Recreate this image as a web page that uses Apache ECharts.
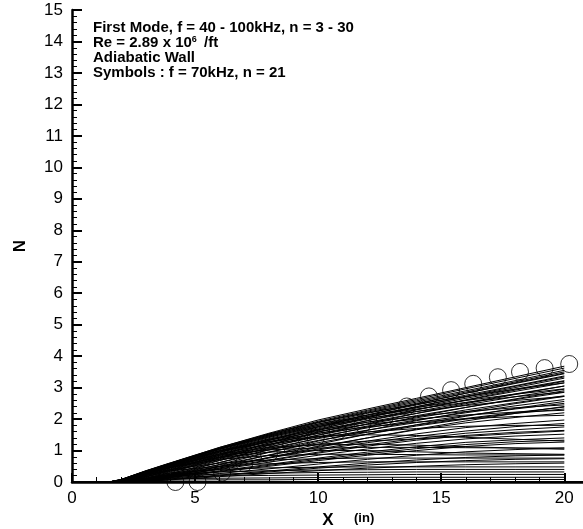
<!DOCTYPE html>
<html>
<head>
<meta charset="utf-8">
<script src="https://cdn.jsdelivr.net/npm/echarts@6/dist/echarts.min.js"></script>
<style>
  html, body { margin: 0; padding: 0; background: #fff; }
  #chart { width: 583px; height: 529px; }
</style>
</head>
<body>
<div id="chart"></div>
<script>
// stations along the body (in)
var xPts = [1.5, 2, 3, 4, 6, 8, 10, 12, 14, 16, 18, 20];

// low-frequency curves, keep growing to the end (top band)
var topBand = [
    [0, 0.08, 0.35, 0.60, 1.10, 1.55, 1.97, 2.32, 2.66, 3.00, 3.34, 3.68],
    [0, 0.07, 0.33, 0.58, 1.07, 1.52, 1.93, 2.28, 2.62, 2.96, 3.29, 3.62],
    [0, 0.06, 0.32, 0.57, 1.05, 1.50, 1.90, 2.25, 2.58, 2.90, 3.22, 3.55],
    [0, 0.06, 0.31, 0.55, 1.03, 1.47, 1.88, 2.22, 2.54, 2.86, 3.18, 3.50],
    [0, 0.05, 0.30, 0.54, 1.00, 1.44, 1.84, 2.18, 2.50, 2.82, 3.13, 3.44],
    [0, 0.05, 0.29, 0.52, 0.98, 1.41, 1.80, 2.13, 2.45, 2.76, 3.06, 3.37],
    [0, 0.04, 0.28, 0.50, 0.95, 1.38, 1.76, 2.08, 2.40, 2.70, 3.00, 3.30],
    [0, 0.04, 0.27, 0.49, 0.93, 1.35, 1.72, 2.05, 2.36, 2.66, 2.95, 3.22],
    [0, 0.03, 0.26, 0.47, 0.90, 1.32, 1.69, 2.00, 2.30, 2.60, 2.88, 3.15],
    [0, 0.03, 0.25, 0.46, 0.88, 1.28, 1.64, 1.95, 2.24, 2.52, 2.80, 3.05],
    [0, 0.03, 0.24, 0.44, 0.85, 1.24, 1.59, 1.90, 2.18, 2.45, 2.71, 2.95],
    [0, 0.02, 0.22, 0.42, 0.82, 1.20, 1.54, 1.84, 2.11, 2.37, 2.62, 2.85],
    [0, 0.02, 0.21, 0.40, 0.79, 1.16, 1.49, 1.78, 2.04, 2.29, 2.52, 2.74],
    [0, 0.02, 0.20, 0.38, 0.76, 1.12, 1.44, 1.72, 1.97, 2.20, 2.42, 2.62],
    [0, 0.01, 0.18, 0.36, 0.72, 1.07, 1.38, 1.65, 1.89, 2.11, 2.32, 2.50],
    [0, 0.01, 0.17, 0.34, 0.69, 1.02, 1.32, 1.58, 1.81, 2.02, 2.21, 2.38]
];

// later-starting curves that catch up with the top band
var lateBand = [
    [0, 0.00, 0.15, 0.38, 0.85, 1.32, 1.75, 2.13, 2.48, 2.82, 3.15, 3.46],
    [0, 0.00, 0.12, 0.33, 0.78, 1.24, 1.66, 2.04, 2.39, 2.72, 3.04, 3.34],
    [0, 0.00, 0.10, 0.30, 0.74, 1.18, 1.58, 1.95, 2.29, 2.61, 2.92, 3.20],
    [0, 0.00, 0.08, 0.26, 0.68, 1.10, 1.49, 1.85, 2.18, 2.49, 2.78, 3.05],
    [0, 0.00, 0.07, 0.23, 0.62, 1.02, 1.40, 1.75, 2.07, 2.37, 2.64, 2.90],
    [0, 0.00, 0.05, 0.20, 0.56, 0.94, 1.30, 1.64, 1.95, 2.23, 2.49, 2.72],
    [0, 0.00, 0.04, 0.17, 0.50, 0.86, 1.20, 1.52, 1.82, 2.09, 2.34, 2.56],
    [0, 0.00, 0.03, 0.14, 0.44, 0.78, 1.10, 1.40, 1.68, 1.94, 2.18, 2.40]
];

// early curves that slow down towards the end
var bendBand = [
    [0, 0.08, 0.36, 0.61, 1.10, 1.53, 1.90, 2.20, 2.47, 2.72, 2.95, 3.15],
    [0, 0.08, 0.35, 0.60, 1.08, 1.49, 1.84, 2.12, 2.37, 2.59, 2.79, 2.96],
    [0, 0.07, 0.34, 0.58, 1.04, 1.43, 1.76, 2.02, 2.24, 2.43, 2.59, 2.72],
    [0, 0.07, 0.33, 0.56, 1.00, 1.36, 1.66, 1.90, 2.09, 2.24, 2.36, 2.45],
    [0, 0.07, 0.32, 0.54, 0.95, 1.28, 1.55, 1.75, 1.90, 2.01, 2.08, 2.12],
    [0, 0.06, 0.31, 0.52, 0.90, 1.20, 1.43, 1.59, 1.70, 1.77, 1.80, 1.80],
    [0, 0.07, 0.34, 0.59, 1.06, 1.46, 1.80, 2.08, 2.32, 2.53, 2.71, 2.86],
    [0, 0.06, 0.32, 0.55, 0.98, 1.33, 1.61, 1.83, 2.00, 2.13, 2.22, 2.28]
];

// slower growing curves in the middle
var slowBand = [
    [0, 0.01, 0.12, 0.28, 0.62, 0.95, 1.25, 1.52, 1.78, 2.00, 2.18, 2.32],
    [0, 0.00, 0.10, 0.25, 0.55, 0.85, 1.13, 1.40, 1.66, 1.88, 2.05, 2.20],
    [0, 0.00, 0.09, 0.23, 0.50, 0.78, 1.05, 1.30, 1.53, 1.73, 1.86, 1.97],
    [0, 0.00, 0.08, 0.20, 0.45, 0.70, 0.95, 1.18, 1.38, 1.55, 1.66, 1.75],
    [0, 0.00, 0.06, 0.17, 0.42, 0.68, 0.92, 1.14, 1.33, 1.48, 1.58, 1.64],
    [0, 0.00, 0.07, 0.18, 0.40, 0.63, 0.85, 1.05, 1.23, 1.37, 1.46, 1.52],
    [0, 0.00, 0.06, 0.16, 0.36, 0.56, 0.76, 0.95, 1.12, 1.26, 1.34, 1.40],
    [0, 0.00, 0.05, 0.14, 0.32, 0.50, 0.68, 0.85, 1.00, 1.13, 1.22, 1.27],
    [0, 0.00, 0.04, 0.12, 0.27, 0.42, 0.57, 0.72, 0.85, 0.96, 1.03, 1.08],
    [0, 0.00, 0.03, 0.10, 0.22, 0.35, 0.48, 0.60, 0.70, 0.78, 0.83, 0.86],
    [0, 0.00, 0.02, 0.08, 0.20, 0.32, 0.44, 0.54, 0.62, 0.68, 0.72, 0.74],
    [0, 0.00, 0.02, 0.07, 0.17, 0.27, 0.36, 0.44, 0.50, 0.55, 0.58, 0.60],
    [0, 0.00, 0.08, 0.21, 0.48, 0.76, 1.02, 1.25, 1.45, 1.62, 1.76, 1.86],
    [0, 0.00, 0.05, 0.15, 0.34, 0.53, 0.72, 0.90, 1.06, 1.19, 1.28, 1.33]
];

// high-frequency curves that level off or fall back
var flatBand = [
    [0, 0.04, 0.25, 0.45, 0.80, 1.05, 1.20, 1.30, 1.37, 1.45, 1.54, 1.62],
    [0, 0.06, 0.32, 0.56, 0.98, 1.28, 1.45, 1.50, 1.48, 1.42, 1.36, 1.30],
    [0, 0.06, 0.30, 0.52, 0.88, 1.10, 1.18, 1.20, 1.17, 1.12, 1.08, 1.04],
    [0, 0.05, 0.28, 0.50, 0.85, 1.02, 1.08, 1.10, 1.10, 1.09, 1.08, 1.08],
    [0, 0.05, 0.28, 0.48, 0.78, 0.95, 1.00, 1.00, 0.96, 0.92, 0.90, 0.88],
    [0, 0.05, 0.27, 0.46, 0.72, 0.84, 0.88, 0.88, 0.87, 0.86, 0.86, 0.86],
    [0, 0.04, 0.24, 0.40, 0.60, 0.70, 0.74, 0.76, 0.76, 0.76, 0.76, 0.76],
    [0, 0.04, 0.22, 0.36, 0.50, 0.58, 0.62, 0.64, 0.64, 0.64, 0.64, 0.64],
    [0, 0.03, 0.18, 0.29, 0.40, 0.45, 0.47, 0.48, 0.48, 0.48, 0.48, 0.48],
    [0, 0.03, 0.15, 0.24, 0.32, 0.36, 0.38, 0.39, 0.40, 0.40, 0.40, 0.40],
    [0, 0.02, 0.12, 0.19, 0.25, 0.28, 0.30, 0.31, 0.32, 0.32, 0.32, 0.32],
    [0, 0.02, 0.10, 0.15, 0.19, 0.21, 0.22, 0.23, 0.24, 0.24, 0.24, 0.24],
    [0, 0.01, 0.07, 0.10, 0.12, 0.13, 0.14, 0.15, 0.15, 0.15, 0.15, 0.15],
    [0, 0.01, 0.04, 0.06, 0.07, 0.07, 0.08, 0.08, 0.08, 0.08, 0.08, 0.08]
];

// symbols : f = 70kHz, n = 21
var symX = [4.2, 5.1, 6.1, 7.0, 8.0, 8.9, 9.9, 10.8, 11.8, 12.7, 13.6, 14.5, 15.4, 16.3, 17.3, 18.2, 19.2, 20.2];
var symN = [0, 0, 0.30, 0.60, 0.90, 1.17, 1.40, 1.62, 1.85, 2.05, 2.40, 2.72, 2.92, 3.12, 3.33, 3.50, 3.62, 3.75];

var noteLines = [
    'First Mode, f = 40 - 100kHz, n = 3 - 30',
    'Re = 2.89 x 10{sup|6} /ft',
    'Adiabatic Wall',
    'Symbols : f = 70kHz, n = 21'
];

var FONT = '"Liberation Sans", Arial, Helvetica, sans-serif';

var chart = echarts.init(document.getElementById('chart'), null, {renderer: 'canvas'});

function makeLine(vals) {
    return {
        type: 'line',
        data: xPts.map(function (x, i) { return [x, vals[i]]; }),
        symbol: 'none',
        silent: true,
        lineStyle: {color: '#000', width: 1},
        z: 2
    };
}

var series = [];
[topBand, lateBand, bendBand, slowBand, flatBand].forEach(function (band) {
    band.forEach(function (c) { series.push(makeLine(c)); });
});
series.push({
    type: 'scatter',
    data: symX.map(function (x, i) { return [x, symN[i]]; }),
    symbol: 'circle',
    symbolSize: 17,
    clip: false,
    itemStyle: {color: 'rgba(0,0,0,0)', borderColor: '#000', borderWidth: 1},
    z: 3
});

var graphics = noteLines.map(function (t, i) {
    return {
        type: 'text',
        left: 93,
        top: 20 + i * 15,
        style: {
            text: t,
            fill: '#000',
            font: 'bold 15px ' + FONT,
            rich: {
                sup: {fontSize: 9, fontWeight: 'bold', fontFamily: FONT, verticalAlign: 'top', padding: [0, 3, 7, 0]}
            }
        }
    };
});
graphics.push({
    type: 'text',
    left: 354,
    top: 512,
    style: {text: '(in)', fill: '#000', font: 'bold 13px ' + FONT}
});

var tickLabel = {color: '#000', fontSize: 17, fontFamily: FONT};

var option = {
    animation: false,
    backgroundColor: '#fff',
    grid: {left: 72, top: 10, width: 512, height: 472, containLabel: false, outerBoundsMode: 'none'},
    xAxis: [{
        type: 'value',
        min: 0,
        max: 20.8,
        interval: 5,
        name: 'X',
        nameLocation: 'middle',
        nameGap: 28,
        nameTextStyle: {color: '#000', fontSize: 17, fontWeight: 'bold', fontFamily: FONT},
        axisLine: {show: true, lineStyle: {color: '#000', width: 2.5}},
        axisTick: {show: true, inside: true, length: 9, lineStyle: {color: '#000', width: 2}},
        axisLabel: Object.assign({margin: 8}, tickLabel),
        splitLine: {show: false},
        z: 5
    }, {
        // top frame line
        type: 'value',
        position: 'top',
        min: 0,
        max: 20.8,
        axisLine: {show: true, lineStyle: {color: '#000', width: 2}},
        axisTick: {show: false},
        axisLabel: {show: false},
        splitLine: {show: false}
    }, {
        // minor ticks on x, every 1 in
        type: 'value',
        position: 'bottom',
        min: 0,
        max: 20.8,
        interval: 1,
        axisLine: {show: false},
        axisTick: {show: true, inside: true, length: 5, lineStyle: {color: '#000', width: 1}},
        axisLabel: {show: false},
        splitLine: {show: false}
    }],
    yAxis: [{
        type: 'value',
        min: 0,
        max: 15,
        interval: 1,
        name: 'N',
        nameLocation: 'middle',
        nameRotate: 90,
        nameGap: 43,
        nameTextStyle: {color: '#000', fontSize: 17, fontWeight: 'bold', fontFamily: FONT},
        axisLine: {show: true, lineStyle: {color: '#000', width: 2.5}},
        axisTick: {show: true, inside: true, length: 10, lineStyle: {color: '#000', width: 2}},
        axisLabel: Object.assign({margin: 9}, tickLabel),
        splitLine: {show: false},
        z: 5
    }, {
        // minor ticks on N, every 0.2
        type: 'value',
        position: 'left',
        min: 0,
        max: 15,
        interval: 0.2,
        axisLine: {show: false},
        axisTick: {show: true, inside: true, length: 5, lineStyle: {color: '#000', width: 1}},
        axisLabel: {show: false},
        splitLine: {show: false}
    }],
    graphic: graphics,
    series: series
};

chart.setOption(option);
</script>
</body>
</html>
